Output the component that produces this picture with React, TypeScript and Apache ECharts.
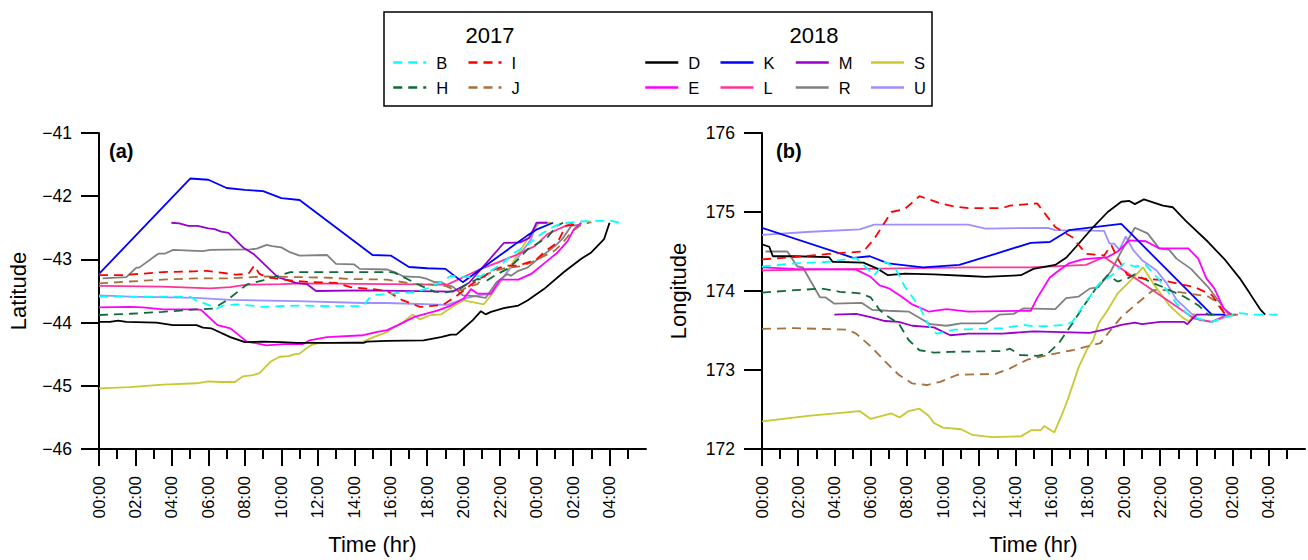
import React, { useEffect, useRef } from "react";
import * as echarts from "echarts";

// ---------- tick / axis data ----------
const majorHours = [0, 2, 4, 6, 8, 10, 12, 14, 16, 18, 20, 22, 24, 26, 28];
const minorHours = [1, 3, 5, 7, 9, 11, 13, 15, 17, 19, 21, 23, 25, 27, 29];

// ---------- (a) Latitude, [hour, value] ----------
const latB = [[0,-43.59],[1.7,-43.59],[5,-43.59],[5.35,-43.65],[6.1,-43.73],[6.45,-43.78],[6.8,-43.73],[7.55,-43.71],[9,-43.75],[10.85,-43.73],[12.7,-43.74],[14.5,-43.74],[14.8,-43.62],[15.15,-43.56],[15.8,-43.55],[16.4,-43.53],[17.3,-43.52],[18,-43.46],[18.75,-43.36],[19.3,-43.26],[19.85,-43.28],[20.4,-43.28],[20.95,-43.26],[21.5,-43.18],[22.1,-43.07],[22.8,-42.89],[23.5,-42.77],[24.25,-42.6],[25,-42.47],[25.7,-42.42],[26.45,-42.4],[27.35,-42.39],[28.1,-42.39],[28.55,-42.42]];
const latI = [[0,-43.25],[1.3,-43.25],[3.5,-43.2],[5.2,-43.19],[5.9,-43.18],[6.45,-43.2],[7.5,-43.24],[8.2,-43.23],[8.5,-43.1],[8.8,-43.23],[9.2,-43.28],[10.1,-43.32],[11.6,-43.36],[13,-43.37],[13.8,-43.44],[15.05,-43.47],[15.8,-43.5],[16.6,-43.64],[17.6,-43.75],[18.85,-43.72],[19.6,-43.58],[20.5,-43.38],[21.3,-43.23],[21.75,-43.15],[22.4,-43.1],[23,-43.1],[23.5,-43.05],[24,-43.0],[24.4,-42.89],[25.15,-42.73],[25.6,-42.47],[26.1,-42.45],[26.35,-42.42]];
const latH = [[0,-43.88],[1.7,-43.86],[3.5,-43.83],[5.35,-43.79],[6.25,-43.78],[7,-43.65],[8.1,-43.4],[9,-43.33],[10.5,-43.2],[15.8,-43.2],[16.2,-43.21],[16.7,-43.28],[17.6,-43.41],[18.4,-43.51],[19,-43.52],[19.65,-43.49],[20.2,-43.39],[20.75,-43.31],[21.3,-43.33],[21.85,-43.23],[22.4,-43.15],[23,-43.0],[23.5,-42.84],[24.15,-42.73],[24.6,-42.65],[25.1,-42.47],[25.45,-42.42]];
const latJ = [[0,-43.38],[1.7,-43.35],[3.5,-43.32],[5.35,-43.3],[7.2,-43.3],[9,-43.27],[10.85,-43.28],[12.7,-43.29],[13.8,-43.31],[15.8,-43.32],[17.3,-43.39],[18.2,-43.4],[19,-43.42],[19.4,-43.47],[19.85,-43.49],[20.2,-43.44],[20.75,-43.39],[21.3,-43.23],[21.85,-43.17],[22.4,-43.13],[23.1,-43.11],[23.7,-43.05],[24.25,-42.97],[24.6,-42.92],[25,-42.86],[25.45,-42.73],[25.9,-42.57],[26.45,-42.45],[27,-42.41]];
const latD = [[0,-43.99],[0.6,-43.99],[1.05,-43.97],[1.5,-43.99],[3.15,-44.0],[4.05,-44.04],[5.35,-44.04],[5.7,-44.08],[6.15,-44.09],[7.2,-44.23],[8,-44.31],[9,-44.3],[10,-44.31],[10.85,-44.32],[12.7,-44.32],[14.5,-44.32],[14.7,-44.3],[15.8,-44.29],[17.8,-44.28],[18.75,-44.23],[19.3,-44.19],[19.6,-44.19],[20,-44.09],[20.5,-43.96],[20.95,-43.82],[21.2,-43.87],[21.5,-43.83],[22.2,-43.77],[23,-43.73],[23.5,-43.65],[24.4,-43.47],[25.5,-43.2],[26.45,-42.99],[27,-42.89],[27.7,-42.68],[28,-42.42]];
const latE = [[0,-43.76],[1.7,-43.75],[2.4,-43.76],[3.5,-43.79],[5.35,-43.79],[5.6,-43.8],[5.9,-43.88],[6.5,-44.04],[7.2,-44.09],[7.55,-44.17],[8.1,-44.3],[9.2,-44.36],[10.1,-44.34],[11.2,-44.34],[11.55,-44.28],[12.5,-44.23],[14.5,-44.2],[15.2,-44.15],[15.8,-44.12],[16.4,-44.04],[17.3,-43.91],[17.8,-43.87],[18.55,-43.81],[19.3,-43.73],[20,-43.62],[20.4,-43.47],[20.75,-43.54],[21.5,-43.54],[22,-43.32],[23,-43.32],[23.7,-43.23],[24.6,-43.02],[25.15,-42.89],[25.7,-42.71],[26.05,-42.52],[26.45,-42.42]];
const latK = [[0,-43.23],[5,-41.72],[6,-41.74],[7,-41.87],[8,-41.9],[9,-41.92],[10,-42.03],[11,-42.06],[15,-42.93],[16,-42.94],[17,-43.12],[18,-43.14],[19,-43.15],[19.95,-43.36],[23.5,-42.62],[24.05,-42.52],[24.9,-42.42]];
const latL = [[0,-43.42],[3.5,-43.43],[6.1,-43.46],[7.2,-43.44],[8.1,-43.4],[10,-43.39],[11.2,-43.38],[15.8,-43.39],[19.1,-43.4],[20.2,-43.25],[20.95,-43.15],[21.85,-43.05],[22.8,-42.94],[23.9,-42.79],[24.6,-42.6],[25.35,-42.5],[26,-42.42]];
const latM = [[3.97,-42.42],[4.4,-42.43],[4.9,-42.47],[5.4,-42.47],[6,-42.51],[6.35,-42.52],[6.7,-42.56],[7.1,-42.58],[7.9,-42.81],[8.5,-42.92],[9.8,-43.28],[10.8,-43.37],[11.4,-43.39],[11.9,-43.5],[14.5,-43.49],[19.4,-43.51],[19.85,-43.44],[20.3,-43.37],[22.2,-42.74],[23.1,-42.73],[23.6,-42.66],[24,-42.42],[24.6,-42.42]];
const latR = [[0.2,-43.3],[1.5,-43.28],[2.05,-43.13],[2.2,-43.13],[3.25,-42.91],[3.6,-42.91],[4.07,-42.85],[5,-42.86],[5.7,-42.87],[6.1,-42.85],[8.3,-42.84],[8.65,-42.83],[9.2,-42.77],[9.5,-42.79],[10,-42.81],[10.5,-42.89],[11,-42.94],[12.5,-42.93],[13,-43.07],[14,-43.08],[14.3,-43.15],[15.8,-43.16],[16.2,-43.2],[16.7,-43.27],[17.6,-43.28],[18,-43.31],[18.4,-43.36],[18.75,-43.36],[19.1,-43.41],[19.4,-43.43],[19.95,-43.57],[20.6,-43.58],[21.2,-43.61],[21.8,-43.36],[22.4,-43.23],[22.6,-43.26],[23,-43.18],[23.5,-43.13],[24.05,-43.0],[25,-42.79],[25.4,-42.68],[25.9,-42.47],[26.4,-42.45]];
const latS = [[0,-45.04],[1.7,-45.02],[3.5,-44.98],[5.35,-44.96],[6,-44.93],[6.6,-44.94],[7.45,-44.94],[7.9,-44.85],[8.45,-44.83],[8.8,-44.8],[9.4,-44.62],[9.9,-44.54],[10.4,-44.53],[10.75,-44.5],[11,-44.49],[11.6,-44.36],[11.95,-44.33],[12.7,-44.32],[14.5,-44.3],[15.05,-44.23],[15.8,-44.15],[16.2,-44.07],[16.7,-43.99],[17.2,-43.87],[17.6,-43.95],[18.2,-43.88],[18.75,-43.87],[19.5,-43.73],[20,-43.65],[21.1,-43.71],[21.5,-43.57],[22.05,-43.34],[22.8,-43.0],[23.5,-42.68],[24.15,-42.42],[24.8,-42.42]];
const latU = [[0,-43.57],[1.7,-43.59],[5.35,-43.61],[7.2,-43.64],[10.85,-43.66],[14.5,-43.69],[15.8,-43.69],[19.1,-43.72],[19.5,-43.68],[20.2,-43.61],[20.95,-43.56],[21.5,-43.55],[22.1,-43.31],[22.8,-43.05],[23.3,-42.84],[23.7,-42.68],[24,-42.42]];

// ---------- (b) Longitude, [hour, value] ----------
const lonB = [[0,174.31],[1.8,174.35],[3.7,174.37],[5.2,174.42],[5.6,174.33],[6.2,174.2],[6.8,174.37],[7.35,174.3],[7.9,174.05],[8.7,173.8],[9.25,173.55],[9.65,173.46],[10.6,173.51],[13.3,173.53],[14.45,173.57],[15.2,173.55],[16.8,173.57],[17.15,173.61],[17.7,173.8],[18.65,174.1],[19.45,174.22],[20,174.35],[20.6,174.31],[21.2,174.33],[21.95,174.14],[22.9,173.84],[23.7,173.67],[24.85,173.61],[25.6,173.67],[26.4,173.72],[27.15,173.7],[28.5,173.7]];
const lonI = [[0,174.4],[1.8,174.43],[3.7,174.47],[5.6,174.5],[6.2,174.66],[7.15,175.0],[7.9,175.04],[8.7,175.2],[9.85,175.11],[10.6,175.07],[11.4,175.05],[13.3,175.05],[13.7,175.08],[15.2,175.11],[16.2,174.81],[17.15,174.68],[17.9,174.47],[18.9,174.45],[19.3,174.58],[19.65,174.41],[20.2,174.2],[21,174.16],[22,174.14],[23.9,174.05],[24.85,173.95],[25.2,173.84],[25.6,173.7],[25.95,173.7]];
const lonH = [[0,173.98],[1.8,174.01],[3.3,174.03],[4.3,173.99],[5.4,173.97],[6,173.92],[6.5,173.76],[6.8,173.7],[7.55,173.59],[8.1,173.38],[8.7,173.25],[9.5,173.22],[10.4,173.23],[13.3,173.24],[13.7,173.27],[14.25,173.19],[15.2,173.18],[15.8,173.21],[16.4,173.34],[17.15,173.59],[17.8,173.82],[18.5,174.05],[19.1,174.2],[19.65,174.12],[20.2,174.16],[20.6,174.21],[21.6,174.1],[22.15,174.05],[23.3,173.93],[24.1,173.82],[24.65,173.7],[25,173.7]];
const lonJ = [[0,173.52],[1.8,173.53],[4.75,173.51],[5.2,173.46],[6,173.3],[6.8,173.11],[7.55,172.94],[8.3,172.83],[9.1,172.81],[9.85,172.85],[10.8,172.94],[12.9,172.95],[13.7,173.02],[14.65,173.13],[15.8,173.19],[17.15,173.25],[18.7,173.34],[19.1,173.46],[19.85,173.67],[20.6,173.82],[21.6,174.01],[22.35,174.01],[23.5,173.97],[24.65,173.93],[25,173.88],[25.6,173.7],[26.4,173.7]];
const lonD = [[0,174.59],[0.4,174.56],[0.6,174.44],[1.8,174.44],[3.7,174.43],[3.9,174.37],[5.6,174.36],[6.4,174.28],[6.96,174.2],[7.9,174.22],[9.5,174.21],[11.4,174.19],[12.35,174.18],[14.3,174.2],[15,174.28],[16.2,174.33],[16.8,174.42],[17.35,174.56],[18.3,174.81],[19.1,175.0],[19.85,175.13],[20.3,175.14],[20.6,175.1],[21.1,175.16],[22.15,175.08],[22.7,175.06],[23.4,174.89],[24.65,174.62],[25.6,174.39],[26.4,174.16],[26.95,173.97],[27.55,173.76],[27.8,173.7]];
const lonE = [[0,174.3],[1.8,174.28],[5.2,174.27],[6,174.18],[6.5,174.07],[7.05,174.03],[7.7,173.93],[8.3,173.83],[9.2,173.74],[10.2,173.77],[11.4,173.74],[14.85,173.75],[15.2,173.91],[15.9,174.17],[16.4,174.26],[16.96,174.35],[17.7,174.4],[19.1,174.43],[19.65,174.5],[20.3,174.64],[21.2,174.63],[21.95,174.54],[23.55,174.54],[24.1,174.41],[24.55,174.16],[25,174.03],[25.5,173.78],[25.95,173.7]];
const lonK = [[0,174.8],[5.04,174.42],[5.96,174.44],[6.96,174.35],[8.9,174.3],[10.9,174.33],[12.9,174.47],[14.85,174.61],[15.9,174.62],[16.96,174.77],[19.85,174.85],[24.85,173.7],[25.6,173.7]];
const lonL = [[0,174.26],[5.6,174.28],[11.4,174.3],[14.85,174.3],[17.9,174.33],[18.9,174.43],[23.9,173.65],[24.85,173.61],[25.6,173.69],[26.2,173.7]];
const lonM = [[4,173.7],[5.2,173.71],[6,173.67],[6.8,173.62],[7.55,173.61],[8.3,173.56],[9.5,173.54],[10.4,173.44],[11.4,173.46],[13.3,173.46],[15,173.49],[18.1,173.47],[18.9,173.51],[19.85,173.57],[20.6,173.6],[21,173.58],[22,173.61],[23.3,173.61],[23.5,173.58],[24,173.7],[24.85,173.7]];
const lonR = [[0.2,174.5],[1.4,174.5],[1.95,174.31],[2.25,174.3],[3.2,173.92],[3.5,173.92],[4,173.84],[5.5,173.85],[6.1,173.76],[6.96,173.75],[8.1,173.74],[9.3,173.58],[10.2,173.56],[11,173.59],[12.35,173.59],[13.1,173.7],[13.9,173.71],[14.45,173.78],[16.2,173.77],[16.8,173.91],[17.5,173.93],[18.1,174.03],[18.6,174.05],[19.25,174.24],[19.85,174.5],[20.6,174.8],[21.3,174.73],[21.95,174.54],[22.5,174.52],[22.9,174.41],[23.7,174.28],[24.65,174.05],[25.6,173.76],[25.8,173.7]];
const lonS = [[0,172.35],[2.55,172.42],[5.4,172.48],[6,172.38],[7.15,172.45],[7.6,172.4],[8.1,172.48],[8.7,172.51],[9.2,172.42],[9.5,172.33],[10,172.27],[11,172.25],[11.6,172.18],[12.7,172.15],[14.3,172.16],[14.9,172.24],[15.4,172.24],[15.6,172.29],[16.15,172.21],[16.6,172.45],[16.96,172.67],[17.5,173.04],[18,173.28],[18.3,173.38],[18.6,173.59],[19.1,173.76],[19.65,173.97],[20.4,174.14],[21.05,174.3],[21.6,174.1],[22.5,173.82],[23.2,173.67],[23.6,173.61],[23.9,173.72]];
const lonU = [[0,174.71],[2.7,174.75],[5.4,174.78],[6.2,174.84],[11.4,174.84],[12.35,174.79],[15.8,174.8],[16.2,174.77],[18.9,174.76],[19.2,174.6],[19.45,174.6],[19.75,174.52],[20.1,174.69],[20.5,174.52],[21,174.39],[21.8,174.26],[22.35,174.1],[22.9,173.89],[23.7,173.72],[24.2,173.63],[24.85,173.61],[25.6,173.67],[26.2,173.7]];

const latData: Record<string, number[][]> = { B: latB, I: latI, H: latH, J: latJ, D: latD, E: latE, K: latK, L: latL, M: latM, R: latR, S: latS, U: latU };
const lonData: Record<string, number[][]> = { B: lonB, I: lonI, H: lonH, J: lonJ, D: lonD, E: lonE, K: lonK, L: lonL, M: lonM, R: lonR, S: lonS, U: lonU };

const colors: Record<string, string> = {
  B: "#00FFFF", I: "#FF0000", H: "#12693A", J: "#A5703C",
  D: "#000000", K: "#0000FF", M: "#9900CC", S: "#C8C832",
  E: "#FF00FF", L: "#FF3399", R: "#808080", U: "#9E8FFF",
};
const dashed = new Set(["B", "I", "H", "J"]);
const order = ["S", "U", "R", "L", "E", "M", "K", "D", "J", "H", "I", "B"];

const FONT = "Liberation Sans, Arial, Helvetica, sans-serif";

function fmtHour(v: number) {
  const h = Math.round(v) % 24;
  return (h < 10 ? "0" : "") + h + ":00";
}
function fmtY(v: number) {
  return v < 0 ? "\u2212" + Math.abs(v) : String(v);
}

function makeX(gridIndex: number, minor: boolean) {
  return {
    type: "value",
    gridIndex,
    position: "bottom",
    min: 0,
    max: 30,
    splitLine: { show: false },
    axisLine: { show: !minor, onZero: false, lineStyle: { color: "#000", width: 2 } },
    axisTick: minor
      ? { show: true, customValues: minorHours, length: 10, lineStyle: { color: "#000", width: 2 } }
      : { show: true, customValues: majorHours, length: 17, lineStyle: { color: "#000", width: 2 } },
    axisLabel: minor
      ? { show: false }
      : {
          show: true, customValues: majorHours, rotate: 90, margin: 27,
          formatter: fmtHour, color: "#000", fontSize: 17, fontFamily: FONT,
        },
    name: minor ? "" : "Time (hr)",
    nameLocation: "middle",
    nameGap: 84,
    nameTextStyle: { fontSize: 22, fontFamily: FONT, color: "#000" },
  };
}

function makeY(gridIndex: number, min: number, max: number, name: string, gap: number) {
  return {
    type: "value",
    gridIndex,
    min, max, interval: 1,
    splitLine: { show: false },
    axisLine: { show: true, onZero: false, lineStyle: { color: "#000", width: 2 } },
    axisTick: { show: true, length: 18, lineStyle: { color: "#000", width: 2 } },
    axisLabel: { margin: 27, formatter: fmtY, color: "#000", fontSize: 17.5, fontFamily: FONT },
    name,
    nameLocation: "middle",
    nameGap: gap,
    nameTextStyle: { fontSize: 22, fontFamily: FONT, color: "#000" },
  };
}

function makeSeries(data: Record<string, number[][]>, xIdx: number, yIdx: number) {
  return order.map((n) => ({
    type: "line",
    name: n,
    xAxisIndex: xIdx,
    yAxisIndex: yIdx,
    data: data[n],
    symbol: "none",
    showSymbol: false,
    color: colors[n],
    lineStyle: { color: colors[n], width: 1.8, type: dashed.has(n) ? [9, 6] : "solid" },
    emphasis: { disabled: true },
  }));
}

function makeLegend(data: string[], left: number, top: number) {
  return {
    data,
    left, top,
    orient: "horizontal",
    padding: 0,
    itemWidth: 33,
    itemHeight: 14,
    itemGap: 15,
    selectedMode: false,
    itemStyle: { opacity: 0 },
    lineStyle: { width: 2.5 },
    textStyle: { fontSize: 16.5, fontFamily: FONT, color: "#000", width: 16, padding: [0, 0, 0, 5], lineHeight: 16 },
  };
}

export default function App() {
  const ref = useRef<HTMLDivElement>(null);
  useEffect(() => {
    if (!ref.current) return;
    const chart = echarts.init(ref.current, undefined, { renderer: "svg" });
    chart.setOption({
      animation: false,
      backgroundColor: "#fff",
      grid: [
        { left: 99, top: 133, width: 547, height: 319 },
        { left: 762, top: 133, width: 543, height: 316 },
      ],
      xAxis: [makeX(0, false), makeX(0, true), makeX(1, false), makeX(1, true)],
      yAxis: [makeY(0, -46, -41, "Latitude", 70), makeY(1, 172, 176, "Longitude", 73)],
      legend: [
        makeLegend(["B", "I"], 392, 54),
        makeLegend(["H", "J"], 392, 79),
        makeLegend(["D", "K", "M", "S"], 644, 54),
        makeLegend(["E", "L", "R", "U"], 644, 79),
      ],
      graphic: [
        { type: "rect", shape: { x: 384, y: 12, width: 548, height: 94 }, style: { fill: "none", stroke: "#000", lineWidth: 1.5 } },
        { type: "text", x: 490, y: 35, style: { text: "2017", fontSize: 22, fontFamily: FONT, fill: "#000", align: "center", verticalAlign: "middle" } },
        { type: "text", x: 814, y: 35, style: { text: "2018", fontSize: 22, fontFamily: FONT, fill: "#000", align: "center", verticalAlign: "middle" } },
        { type: "text", x: 109, y: 151, style: { text: "(a)", fontSize: 20, fontWeight: "bold", fontFamily: FONT, fill: "#000", align: "left", verticalAlign: "middle" } },
        { type: "text", x: 776, y: 151, style: { text: "(b)", fontSize: 20, fontWeight: "bold", fontFamily: FONT, fill: "#000", align: "left", verticalAlign: "middle" } },
      ],
      series: [...makeSeries(latData, 0, 0), ...makeSeries(lonData, 2, 1)],
    });
    return () => chart.dispose();
  }, []);
  return (
    <div
      ref={ref}
      style={{ position: "fixed", left: 0, top: 0, width: 1308, height: 560, background: "#fff" }}
    />
  );
}
